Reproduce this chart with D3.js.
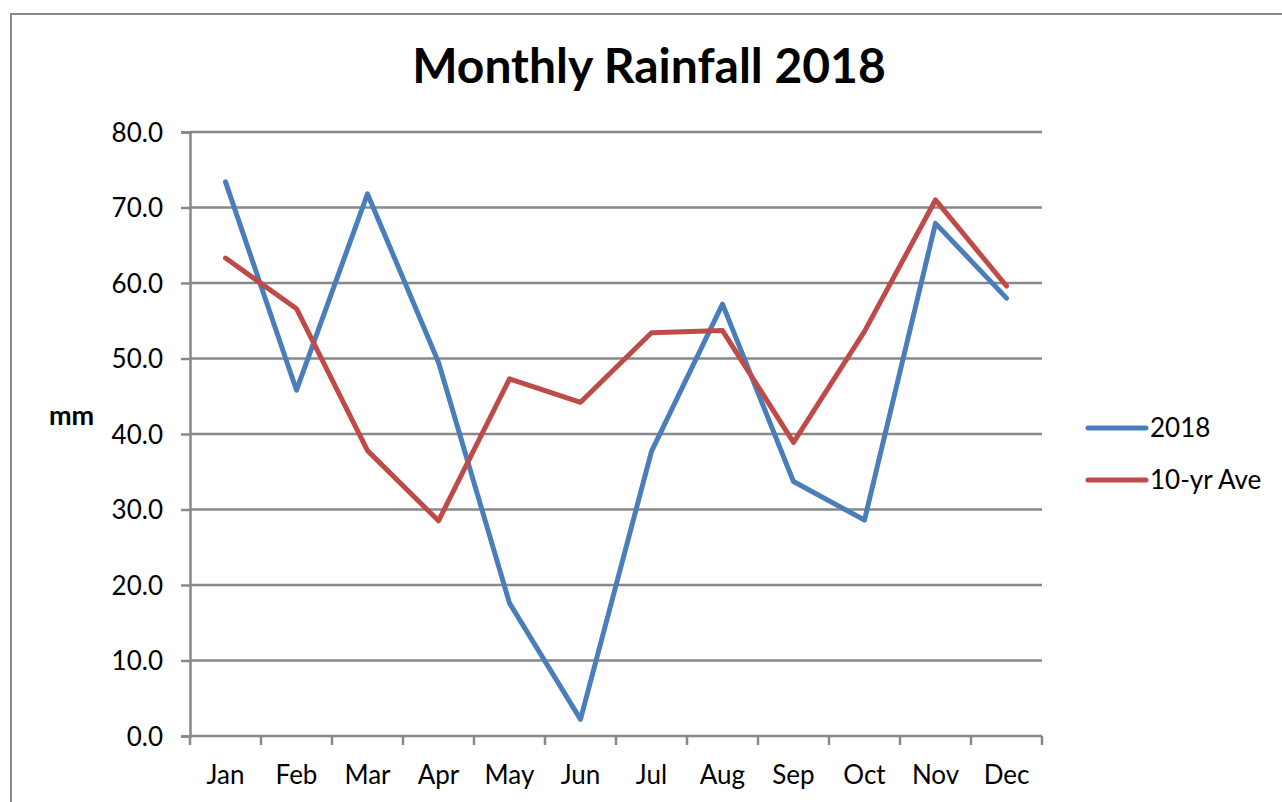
<!DOCTYPE html>
<html>
<head>
<meta charset="utf-8">
<script src="https://cdn.jsdelivr.net/npm/d3@7"></script>
<style>
  body { margin: 0; background: #fff; }
  svg text { font-family: Lato, "Open Sans", sans-serif; fill: #000; }
</style>
</head>
<body>
<div id="chart"></div>
<script>
// chart data
const months = ["Jan", "Feb", "Mar", "Apr", "May", "Jun", "Jul", "Aug", "Sep", "Oct", "Nov", "Dec"];
const rain2018 = [73.4, 45.8, 71.8, 49.5, 17.6, 2.2, 37.7, 57.2, 33.7, 28.6, 67.9, 58.0];
const tenYrAve = [63.3, 56.6, 37.8, 28.5, 47.3, 44.2, 53.4, 53.7, 38.9, 53.6, 71.0, 59.6];
const yTicks = [0, 10, 20, 30, 40, 50, 60, 70, 80];

const series = [
    { name: "2018", values: rain2018, color: "#4a7ebb" },
    { name: "10-yr Ave", values: tenYrAve, color: "#be4b48" }
];

const W = 1282, H = 802;
const margin = { top: 132, right: 240, bottom: 66, left: 190 };
const width = W - margin.left - margin.right,
    height = H - margin.top - margin.bottom;

const svg = d3.select("#chart").append("svg")
    .attr("width", W)
    .attr("height", H);

// outer chart frame, runs off the right and bottom edges
svg.append("rect")
    .attr("x", 11).attr("y", 14)
    .attr("width", 1400).attr("height", 1000)
    .attr("fill", "none")
    .attr("stroke", "#888")
    .attr("stroke-width", 2);

const g = svg.append("g")
    .attr("transform", "translate(" + margin.left + "," + margin.top + ")");

const x = d3.scaleBand().domain(months).range([0, width]);
const y = d3.scaleLinear().domain([0, 80]).range([height, 0]);

// gridlines
g.selectAll(".grid")
    .data(yTicks.filter(d => d > 0))
    .enter().append("line")
    .attr("x1", 0).attr("x2", width)
    .attr("y1", d => y(d)).attr("y2", d => y(d))
    .attr("stroke", "#888")
    .attr("stroke-width", 2.5);

// y axis
const yAxis = g.append("g")
    .call(d3.axisLeft(y).tickValues(yTicks).tickFormat(d3.format(".1f")).tickSizeOuter(0).tickSize(9).tickPadding(18));
yAxis.select(".domain").attr("stroke", "#888").attr("stroke-width", 2.5);
yAxis.selectAll(".tick line").attr("stroke", "#888").attr("stroke-width", 2.5);
yAxis.selectAll("text").attr("font-size", 26).attr("dy", "0.35em");

// x axis, ticks sit on band edges
const xAxis = g.append("g")
    .attr("transform", "translate(0," + height + ")");
xAxis.append("line")
    .attr("x1", 0).attr("x2", width)
    .attr("stroke", "#888").attr("stroke-width", 2.5);
xAxis.selectAll(".xtick")
    .data(months.concat(["end"]))
    .enter().append("line")
    .attr("x1", (d, i) => i * x.step()).attr("x2", (d, i) => i * x.step())
    .attr("y1", 0).attr("y2", 9)
    .attr("stroke", "#888").attr("stroke-width", 2.5);
xAxis.selectAll(".xlabel")
    .data(months)
    .enter().append("text")
    .attr("x", d => x(d) + x.bandwidth() / 2)
    .attr("y", 48)
    .attr("text-anchor", "middle")
    .attr("font-size", 26)
    .text(d => d);

// lines
const line = d3.line()
    .x((d, i) => x(months[i]) + x.bandwidth() / 2)
    .y(d => y(d));

g.selectAll(".series")
    .data(series)
    .enter().append("path")
    .attr("d", d => line(d.values))
    .attr("fill", "none")
    .attr("stroke", d => d.color)
    .attr("stroke-width", 5)
    .attr("stroke-linejoin", "round")
    .attr("stroke-linecap", "round");

// title
svg.append("text")
    .attr("x", 649).attr("y", 83)
    .attr("text-anchor", "middle")
    .attr("font-size", 48)
    .attr("font-weight", "bold")
    .text("Monthly Rainfall 2018");

// y axis label
svg.append("text")
    .attr("x", 49).attr("y", 425)
    .attr("font-size", 27)
    .attr("font-weight", "bold")
    .text("mm");

// legend
const legend = svg.append("g")
    .attr("transform", "translate(1088,428)");
const item = legend.selectAll(".item")
    .data(series)
    .enter().append("g")
    .attr("transform", (d, i) => "translate(0," + i * 52 + ")");
item.append("line")
    .attr("x1", 0).attr("x2", 58)
    .attr("stroke", d => d.color)
    .attr("stroke-width", 5)
    .attr("stroke-linecap", "round");
item.append("text")
    .attr("x", 62).attr("y", 9)
    .attr("font-size", 26)
    .text(d => d.name);
</script>
</body>
</html>
